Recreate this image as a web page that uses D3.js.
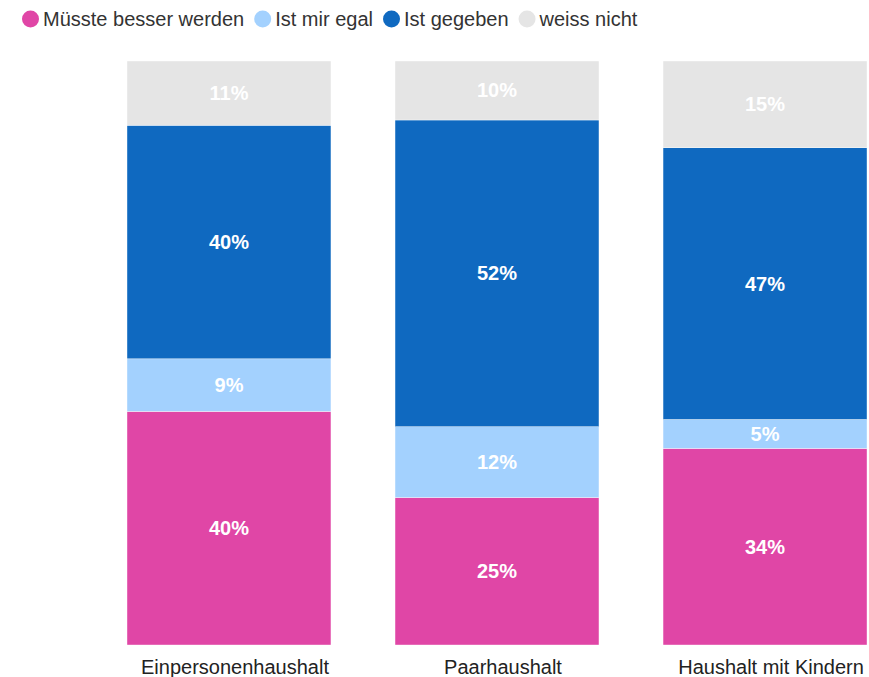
<!DOCTYPE html>
<html><head><meta charset="utf-8">
<script src="https://cdn.jsdelivr.net/npm/d3@7"></script>
<style>body{margin:0;background:#fff;font-family:"Liberation Sans",Arial,sans-serif;}</style>
</head><body>
<svg id="chart" width="869" height="677"></svg>
<script>
const categories = ["Einpersonenhaushalt", "Paarhaushalt", "Haushalt mit Kindern"];
const seriesNames = ["Müsste besser werden", "Ist mir egal", "Ist gegeben", "weiss nicht"];
const muessteBesser = [40, 25, 34];
const egal = [9, 12, 5];
const gegeben = [40, 52, 47];
const weissNicht = [11, 10, 15];
const colors = ["#E046A6", "#A3D1FE", "#0F69C0", "#E5E5E5"];

const rows = categories.map((c, i) => ({cat: c, s0: muessteBesser[i], s1: egal[i], s2: gegeben[i], s3: weissNicht[i]}));
const keys = ["s0","s1","s2","s3"];
const stack = d3.stack().keys(keys).offset(d3.stackOffsetExpand)(rows);

const svg = d3.select("#chart");
const x = d3.scaleBand().domain(categories).range([127, 867]).paddingInner(0.239).paddingOuter(0);
const y = d3.scaleLinear().domain([0, 1]).range([645, 61]);

const g = svg.append("g");
stack.forEach((layer, li) => {
  g.selectAll(null).data(layer).enter().append("rect")
    .attr("x", d => x(d.data.cat))
    .attr("width", x.bandwidth())
    .attr("y", d => y(d[1]))
    .attr("height", d => y(d[0]) - y(d[1]))
    .attr("fill", colors[li])
    .attr("stroke", "#fff").attr("stroke-width", 0.4);
  g.selectAll(null).data(layer).enter().append("text")
    .attr("x", d => x(d.data.cat) + x.bandwidth() / 2)
    .attr("y", d => (y(d[0]) + y(d[1])) / 2)
    .attr("dy", "0.35em")
    .attr("text-anchor", "middle")
    .attr("fill", "#fff")
    .attr("font-size", 20)
    .attr("font-weight", "bold")
    .text(d => d.data[keys[li]] + "%");
});

// x axis labels
const xAxis = d3.axisBottom(x).tickSize(0).tickPadding(15);
const ax = svg.append("g").attr("transform", "translate(0,645)").call(xAxis);
ax.select(".domain").remove();
ax.selectAll("text").attr("dx", 6).attr("font-size", 20).attr("fill", "#222").attr("font-family", "Liberation Sans, Arial, sans-serif");

// legend
const leg = svg.append("g").attr("transform", "translate(22,19)");
let lx = 0;
seriesNames.forEach((n, i) => {
  const it = leg.append("g").attr("transform", `translate(${lx},0)`);
  it.append("circle").attr("cx", 8.5).attr("cy", 0).attr("r", 8.5).attr("fill", colors[i]);
  const t = it.append("text").attr("x", 21).attr("dy", "0.35em").attr("font-size", 20).attr("fill", "#333").text(n);
  lx += 21 + t.node().getComputedTextLength() + 10;
});
</script>
</body></html>
